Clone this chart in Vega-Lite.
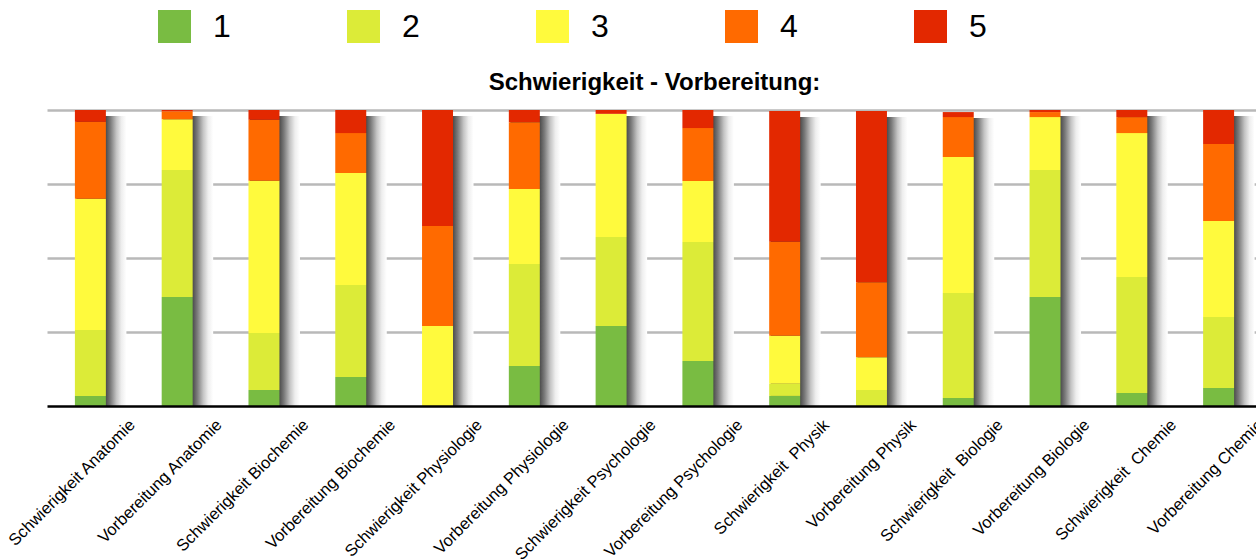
{
  "$schema": "https://vega.github.io/schema/vega-lite/v6.json",
  "width": 1215,
  "height": 296,
  "autosize": "none",
  "padding": {"left": 47, "top": 110, "right": 0, "bottom": 154},
  "background": "white",
  "config": {"view": {"stroke": null}},
  "title": {"text": "Schwierigkeit - Vorbereitung:", "font": "Liberation Sans", "fontSize": 24, "fontWeight": "bold", "color": "black", "anchor": "middle", "baseline": "alphabetic", "offset": 0, "dy": 104},
  "data": {"values": [
    {"k": "Schwierigkeit Anatomie", "n": "1", "v": 3.4}, {"k": "Schwierigkeit Anatomie", "n": "2", "v": 22.3}, {"k": "Schwierigkeit Anatomie", "n": "3", "v": 44.3}, {"k": "Schwierigkeit Anatomie", "n": "4", "v": 26.0}, {"k": "Schwierigkeit Anatomie", "n": "5", "v": 4.0},
    {"k": "Vorbereitung Anatomie", "n": "1", "v": 36.8}, {"k": "Vorbereitung Anatomie", "n": "2", "v": 42.9}, {"k": "Vorbereitung Anatomie", "n": "3", "v": 17.2}, {"k": "Vorbereitung Anatomie", "n": "4", "v": 2.7}, {"k": "Vorbereitung Anatomie", "n": "5", "v": 0.4},
    {"k": "Schwierigkeit Biochemie", "n": "1", "v": 5.4}, {"k": "Schwierigkeit Biochemie", "n": "2", "v": 19.3}, {"k": "Schwierigkeit Biochemie", "n": "3", "v": 51.4}, {"k": "Schwierigkeit Biochemie", "n": "4", "v": 20.6}, {"k": "Schwierigkeit Biochemie", "n": "5", "v": 3.3},
    {"k": "Vorbereitung Biochemie", "n": "1", "v": 9.8}, {"k": "Vorbereitung Biochemie", "n": "2", "v": 31.1}, {"k": "Vorbereitung Biochemie", "n": "3", "v": 37.8}, {"k": "Vorbereitung Biochemie", "n": "4", "v": 13.5}, {"k": "Vorbereitung Biochemie", "n": "5", "v": 7.8},
    {"k": "Schwierigkeit Physiologie", "n": "1", "v": 0}, {"k": "Schwierigkeit Physiologie", "n": "2", "v": 0}, {"k": "Schwierigkeit Physiologie", "n": "3", "v": 27.0}, {"k": "Schwierigkeit Physiologie", "n": "4", "v": 33.8}, {"k": "Schwierigkeit Physiologie", "n": "5", "v": 39.2},
    {"k": "Vorbereitung Physiologie", "n": "1", "v": 13.5}, {"k": "Vorbereitung Physiologie", "n": "2", "v": 34.5}, {"k": "Vorbereitung Physiologie", "n": "3", "v": 25.3}, {"k": "Vorbereitung Physiologie", "n": "4", "v": 22.6}, {"k": "Vorbereitung Physiologie", "n": "5", "v": 4.1},
    {"k": "Schwierigkeit Psychologie", "n": "1", "v": 27.0}, {"k": "Schwierigkeit Psychologie", "n": "2", "v": 30.1}, {"k": "Schwierigkeit Psychologie", "n": "3", "v": 41.6}, {"k": "Schwierigkeit Psychologie", "n": "4", "v": 0}, {"k": "Schwierigkeit Psychologie", "n": "5", "v": 1.3},
    {"k": "Vorbereitung Psychologie", "n": "1", "v": 15.2}, {"k": "Vorbereitung Psychologie", "n": "2", "v": 40.2}, {"k": "Vorbereitung Psychologie", "n": "3", "v": 20.6}, {"k": "Vorbereitung Psychologie", "n": "4", "v": 17.9}, {"k": "Vorbereitung Psychologie", "n": "5", "v": 6.1},
    {"k": "Schwierigkeit\u00a0 Physik", "n": "1", "v": 3.4}, {"k": "Schwierigkeit\u00a0 Physik", "n": "2", "v": 4.1}, {"k": "Schwierigkeit\u00a0 Physik", "n": "3", "v": 16.2}, {"k": "Schwierigkeit\u00a0 Physik", "n": "4", "v": 31.8}, {"k": "Schwierigkeit\u00a0 Physik", "n": "5", "v": 44.2},
    {"k": "Vorbereitung Physik", "n": "1", "v": 0}, {"k": "Vorbereitung Physik", "n": "2", "v": 5.4}, {"k": "Vorbereitung Physik", "n": "3", "v": 11.1}, {"k": "Vorbereitung Physik", "n": "4", "v": 25.3}, {"k": "Vorbereitung Physik", "n": "5", "v": 57.9},
    {"k": "Schwierigkeit\u00a0 Biologie", "n": "1", "v": 2.7}, {"k": "Schwierigkeit\u00a0 Biologie", "n": "2", "v": 35.5}, {"k": "Schwierigkeit\u00a0 Biologie", "n": "3", "v": 45.9}, {"k": "Schwierigkeit\u00a0 Biologie", "n": "4", "v": 13.5}, {"k": "Schwierigkeit\u00a0 Biologie", "n": "5", "v": 1.7},
    {"k": "Vorbereitung Biologie", "n": "1", "v": 36.8}, {"k": "Vorbereitung Biologie", "n": "2", "v": 42.9}, {"k": "Vorbereitung Biologie", "n": "3", "v": 17.9}, {"k": "Vorbereitung Biologie", "n": "4", "v": 1.7}, {"k": "Vorbereitung Biologie", "n": "5", "v": 0.7},
    {"k": "Schwierigkeit\u00a0 Chemie", "n": "1", "v": 4.4}, {"k": "Schwierigkeit\u00a0 Chemie", "n": "2", "v": 39.2}, {"k": "Schwierigkeit\u00a0 Chemie", "n": "3", "v": 48.6}, {"k": "Schwierigkeit\u00a0 Chemie", "n": "4", "v": 5.4}, {"k": "Schwierigkeit\u00a0 Chemie", "n": "5", "v": 2.4},
    {"k": "Vorbereitung Chemie", "n": "1", "v": 6.1}, {"k": "Vorbereitung Chemie", "n": "2", "v": 24.0}, {"k": "Vorbereitung Chemie", "n": "3", "v": 32.4}, {"k": "Vorbereitung Chemie", "n": "4", "v": 26.0}, {"k": "Vorbereitung Chemie", "n": "5", "v": 11.5}
  ]},
  "encoding": {
    "x": {
      "field": "k", "type": "nominal", "sort": null,
      "scale": {"paddingInner": 0.643, "paddingOuter": 0.3215},
      "axis": {"title": null, "labelAngle": -45, "labelAlign": "right", "labelBaseline": "middle", "labelFont": "Liberation Sans", "labelFontSize": 16.5, "labelColor": "black", "labelOffset": 42, "labelPadding": 16, "ticks": false, "domainColor": "black", "domainWidth": 2.5, "labelLimit": 400, "labelOverlap": false, "zindex": 2}
    }
  },
  "layer": [
    {
      "mark": {"type": "bar", "width": 50, "xOffset": 11, "yOffset": 6, "color": {"gradient": "linear", "x1": 0, "y1": 0, "x2": 1, "y2": 0, "stops": [{"offset": 0, "color": "#3a3a3a"}, {"offset": 0.59, "color": "#4c4c4c"}, {"offset": 0.68, "color": "#7a7a7a"}, {"offset": 0.8, "color": "#c4c4c4"}, {"offset": 0.9, "color": "#eeeeee"}, {"offset": 1, "color": "#ffffff"}]}},
      "encoding": {
        "y": {"aggregate": "sum", "field": "v", "type": "quantitative", "scale": {"domain": [0, 100]}}
      }
    },
    {
      "mark": {"type": "bar"},
      "encoding": {
        "y": {"field": "v", "type": "quantitative", "stack": "zero", "scale": {"domain": [0, 100]},
          "axis": {"title": null, "labels": false, "ticks": false, "domain": false, "grid": true, "values": [25, 50, 75, 100], "gridColor": "#b9b9b9", "gridWidth": 2.5}},
        "color": {"field": "n", "type": "nominal",
          "scale": {"domain": ["1", "2", "3", "4", "5"], "range": ["#79bc42", "#dceb38", "#fffa3d", "#ff6a00", "#e32800"]},
          "legend": {"title": null, "orient": "none", "legendX": 111, "legendY": -100, "direction": "horizontal", "columns": 5, "padding": 0, "symbolType": "square", "symbolSize": 1089, "symbolStrokeWidth": 0, "symbolOpacity": 1, "labelFont": "Liberation Sans", "labelFontSize": 32, "labelColor": "black", "labelOffset": 22, "columnPadding": 116}},
        "order": {"field": "n", "type": "ordinal", "sort": "ascending"}
      }
    }
  ]
}
